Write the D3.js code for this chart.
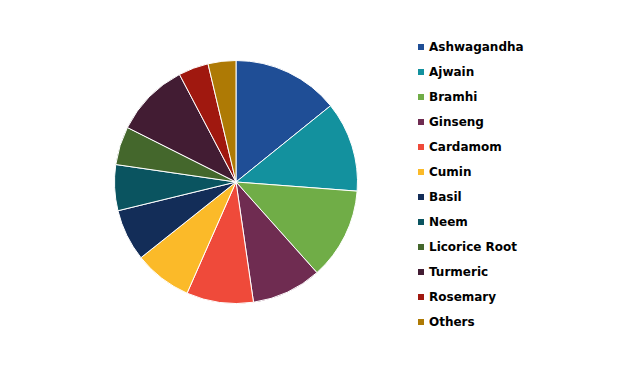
<!DOCTYPE html>
<html>
<head>
<meta charset="utf-8">
<script src="https://cdn.jsdelivr.net/npm/d3@7"></script>
<style>
  body { margin: 0; background: #fff; }
  .legend text { font-family: "DejaVu Sans", sans-serif; font-weight: bold; font-size: 12px; fill: #000; }
</style>
</head>
<body>
<div id="chart"></div>
<script>
// data (percent shares)
var herbs = ["Ashwagandha", "Ajwain", "Bramhi", "Ginseng", "Cardamom", "Cumin",
             "Basil", "Neem", "Licorice Root", "Turmeric", "Rosemary", "Others"];
var shares = [14.2, 12.0, 12.2, 9.3, 8.9, 7.7, 6.9, 6.1, 5.1, 9.9, 4.0, 3.7];
var colours = ["#1f4e96", "#13919e", "#70ad47", "#6f2c51", "#ef4a3a", "#fbba29",
               "#132d58", "#0a5460", "#44672c", "#421c33", "#a0180f", "#ae7a05"];

var w = 620, h = 369;
var svg = d3.select("#chart").append("svg")
  .attr("width", w)
  .attr("height", h);

var color = d3.scaleOrdinal().domain(herbs).range(colours);

var rows = herbs.map(function(d, i) { return { name: d, value: shares[i] }; });

//PIE
var pie = d3.pie().sort(null).value(function(d) { return d.value; });
var arc = d3.arc().innerRadius(0).outerRadius(121.5);

var g = svg.append("g").attr("transform", "translate(236,182)");
g.selectAll("path")
  .data(pie(rows))
  .enter()
  .append("path")
  .attr("d", arc)
  .attr("fill", function(d) { return color(d.data.name); })
  .attr("stroke", "#fff")
  .attr("stroke-width", 1);

//LEGEND
var ly = d3.scalePoint().domain(herbs).range([47, 322]);
var legend = svg.append("g").attr("class", "legend");
var item = legend.selectAll("g")
  .data(herbs)
  .enter()
  .append("g")
  .attr("transform", function(d) { return "translate(418," + ly(d) + ")"; });

item.append("rect")
  .attr("x", 0).attr("y", -3)
  .attr("width", 6).attr("height", 6)
  .attr("fill", function(d) { return color(d); });

item.append("text")
  .attr("x", 11)
  .attr("y", 3.5)
  .text(function(d) { return d; });
</script>
</body>
</html>
